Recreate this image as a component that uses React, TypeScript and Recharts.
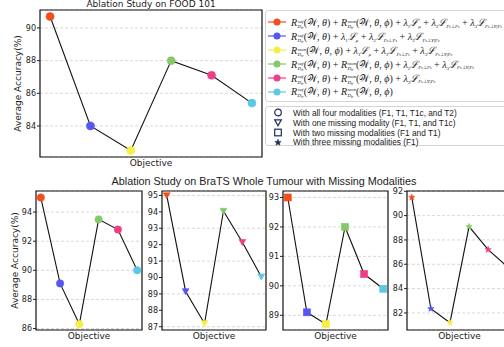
import React from "react";
import { CartesianGrid, Line, LineChart, ReferenceArea, XAxis, YAxis } from "recharts";

// objectives along the x axis (one point per loss combination)
const objectives = ["full", "no-mon", "no-suf", "no-mu", "only-l3", "risks-only"];
const colors = ["#f44d1a", "#5656f2", "#f7ee45", "#84c86a", "#ee3f86", "#5cc8e3"];

const food101 = [90.7, 84.0, 82.5, 88.0, 87.1, 85.4];
const bratsAll = [95.0, 89.1, 86.3, 93.5, 92.8, 90.0];
const bratsOneMissing = [95.0, 89.15, 87.2, 94.05, 92.15, 90.05];
const bratsTwoMissing = [93.0, 89.1, 88.7, 92.0, 90.4, 89.9];
const bratsThreeMissing = [91.5, 82.35, 81.2, 89.1, 87.2, 85.8];

const foodTicks = [84, 86, 88, 90];
const allTicks = [86, 88, 90, 92, 94];
const oneTicks = [87, 88, 89, 90, 91, 92, 93, 94, 95];
const twoTicks = [89, 90, 91, 92, 93];
const threeTicks = [82, 84, 86, 88, 90, 92];

const legendTerms = [
  ["suf", "mon", "l1", "l2", "l3"],
  ["suf", "l1", "l2", "l3"],
  ["mon", "l1", "l2", "l3"],
  ["suf", "mon", "l2", "l3"],
  ["suf", "mon", "l3"],
  ["suf", "mon"],
];
const modalityLabels = [
  "With all four modalities (F1, T1, T1c, and T2)",
  "With one missing modality (F1, T1, and T1c)",
  "With two missing modalities (F1 and T1)",
  "With three missing modalities (F1)",
];
const markerShapes = ["circle", "tri", "square", "star"] as const;

const mpl = "'DejaVu Sans', sans-serif";

function starPoints(cx: number, cy: number, ro: number, ri: number) {
  const pts: string[] = [];
  for (let k = 0; k < 10; k++) {
    const r = k % 2 === 0 ? ro : ri;
    const a = -Math.PI / 2 + (k * Math.PI) / 5;
    pts.push(`${cx + r * Math.cos(a)},${cy + r * Math.sin(a)}`);
  }
  return pts.join(" ");
}

function Marker({ shape, cx, cy, color, size, hollow }: any) {
  const fill = hollow ? "none" : color;
  const sw = hollow ? 1.2 : 0.6;
  if (shape === "circle") return <circle cx={cx} cy={cy} r={size} fill={fill} stroke={color} strokeWidth={sw} />;
  if (shape === "square")
    return <rect x={cx - size} y={cy - size} width={size * 2} height={size * 2} fill={fill} stroke={color} strokeWidth={sw} />;
  if (shape === "tri")
    return (
      <polygon
        points={`${cx - size},${cy - size * 0.8} ${cx + size},${cy - size * 0.8} ${cx},${cy + size}`}
        fill={fill}
        stroke={color}
        strokeWidth={sw}
      />
    );
  return <polygon points={starPoints(cx, cy, size, size * 0.42)} fill={fill} stroke={color} strokeWidth={sw} />;
}

function YLabel({ viewBox, text, dx }: any) {
  const cx = viewBox.x + dx;
  const cy = viewBox.y + viewBox.height / 2;
  return (
    <text x={cx} y={cy} transform={`rotate(-90 ${cx} ${cy})`} textAnchor="middle" dominantBaseline="central" fontSize={9} fontFamily={mpl} fill="#222">
      {text}
    </text>
  );
}

function XLabel({ viewBox, dy }: any) {
  return (
    <text x={viewBox.x + viewBox.width / 2} y={viewBox.y + dy} textAnchor="middle" dominantBaseline="central" fontSize={9} fontFamily={mpl} fill="#222">
      Objective
    </text>
  );
}

interface PanelProps {
  values: number[];
  domain: [number, number];
  ticks: number[];
  shape: string;
  size: number;
  left: number;
  top: number;
  width: number;
  height: number;
  axisW: number;
  marginTop: number;
  xAxisH: number;
  xLabelDy: number;
  ylabel?: boolean;
  ylabelDx?: number;
}

function Panel(p: PanelProps) {
  const data = p.values.map((v, i) => ({ i, name: objectives[i], v }));
  return (
    <div style={{ position: "absolute", left: p.left, top: p.top }}>
      <LineChart width={p.width} height={p.height} data={data} margin={{ top: p.marginTop, right: 2, left: 0, bottom: 0 }}>
        <CartesianGrid vertical={false} stroke="#cfcfcf" strokeDasharray="3 2" strokeWidth={0.8} />
        <XAxis
          type="number"
          dataKey="i"
          domain={[-0.25, 5.25]}
          allowDataOverflow
          tick={false}
          tickLine={false}
          axisLine={false}
          height={p.xAxisH}
          label={<XLabel dy={p.xLabelDy} />}
        />
        <YAxis
          type="number"
          domain={p.domain}
          allowDataOverflow
          ticks={p.ticks}
          width={p.axisW}
          axisLine={false}
          tickSize={3}
          tickMargin={1}
          tickLine={{ stroke: "#222" }}
          tick={{ fontSize: 8, fontFamily: mpl, fill: "#222" }}
          label={p.ylabel ? <YLabel text="Average Accuracy(%)" dx={p.ylabelDx} /> : undefined}
        />
        <ReferenceArea x1={-0.25} x2={5.25} y1={p.domain[0]} y2={p.domain[1]} fill="none" stroke="#111" strokeWidth={1.2} />
        <Line
          dataKey="v"
          stroke="#111"
          strokeWidth={1.1}
          isAnimationActive={false}
          dot={(d: any) => <Marker key={d.index} shape={p.shape} cx={d.cx} cy={d.cy} color={colors[d.index]} size={p.size} />}
          activeDot={false}
        />
      </LineChart>
    </div>
  );
}

const sub: React.CSSProperties = { fontSize: "0.5em", verticalAlign: "-0.3em", lineHeight: 0 };
const tiny: React.CSSProperties = { fontSize: "0.75em" };

function RTerm({ kind }: { kind: string }) {
  return (
    <span>
      <i>R</i>
      <span style={{ display: "inline-block", verticalAlign: "-0.38em", fontSize: "0.5em", lineHeight: "1.05em", marginLeft: 0.4 }}>
        <span style={{ display: "block" }}>
          <i>{kind}</i>
        </span>
        <span style={{ display: "block" }}>
          <i>D</i>
          <span style={{ fontSize: "0.75em", verticalAlign: "-0.25em", lineHeight: 0 }}>
            <i>tr</i>
          </span>
        </span>
      </span>
      {kind === "suf" ? <>(𝒲, <i>θ</i>)</> : <>(𝒲, <i>θ</i>, <i>ϕ</i>)</>}
    </span>
  );
}

function LTerm({ kind }: { kind: string }) {
  const n = kind === "l1" ? "1" : kind === "l2" ? "2" : "3";
  let s: React.ReactNode;
  if (kind === "l1") s = <i>μ</i>;
  else if (kind === "l2")
    s = (
      <>
        <i>F</i>
        <span style={tiny}>c</span>⊥<i>F</i>
        <span style={tiny}>s</span>
      </>
    );
  else
    s = (
      <>
        <i>F</i>
        <span style={tiny}>s</span>⊥<i>Y</i>|<i>F</i>
        <span style={tiny}>c</span>
      </>
    );
  return (
    <span>
      <i>λ</i>
      <span style={sub}>{n}</span>
      <i>ℒ</i>
      <span style={sub}>{s}</span>
    </span>
  );
}

function Formula({ terms }: { terms: string[] }) {
  return (
    <span style={{ whiteSpace: "nowrap" }}>
      {terms.map((t, k) => (
        <React.Fragment key={t}>
          {k > 0 && " + "}
          {t === "suf" || t === "mon" ? <RTerm kind={t} /> : <LTerm kind={t} />}
        </React.Fragment>
      ))}
    </span>
  );
}

export default function App() {
  return (
    <div style={{ position: "fixed", left: 0, top: 0, width: 504, height: 347, overflow: "hidden", background: "#fff" }}>
      <div
        style={{
          position: "absolute",
          left: 40,
          width: 222,
          top: -0.5,
          lineHeight: "9px",
          textAlign: "center",
          fontSize: 9,
          fontFamily: mpl,
          color: "#222",
        }}
      >
        Ablation Study on FOOD 101
      </div>
      <Panel
        values={food101}
        domain={[82.1, 91.1]}
        ticks={foodTicks}
        shape="circle"
        size={4}
        left={0}
        top={0}
        width={264}
        height={170}
        axisW={40}
        marginTop={10}
        xAxisH={13}
        xLabelDy={6}
        ylabel
        ylabelDx={18}
      />

      <div
        style={{
          position: "absolute",
          left: 265,
          top: 10,
          width: 270,
          height: 92,
          boxSizing: "border-box",
          border: "1px solid #d4d4d4",
          borderRadius: 3,
          paddingTop: 4.4,
          paddingLeft: 2,
          fontFamily: "'Liberation Serif', serif",
          fontSize: 10,
          color: "#222",
        }}
      >
        {legendTerms.map((terms, k) => (
          <div key={k} style={{ height: 13.9, display: "flex", alignItems: "center" }}>
            <svg width={18} height={8} style={{ flex: "none", marginRight: 5 }}>
              <line x1={0} x2={18} y1={4} y2={4} stroke={colors[k]} strokeWidth={1.2} />
              <circle cx={9} cy={4} r={3.5} fill={colors[k]} />
            </svg>
            <Formula terms={terms} />
          </div>
        ))}
      </div>

      <div
        style={{
          position: "absolute",
          left: 265,
          top: 106,
          width: 270,
          height: 40,
          boxSizing: "border-box",
          border: "1px solid #d4d4d4",
          borderRadius: 3,
          paddingTop: 0.8,
          paddingLeft: 7,
          fontFamily: "'Liberation Sans', sans-serif",
          fontSize: 8.3,
          color: "#222",
        }}
      >
        {modalityLabels.map((label, k) => (
          <div key={k} style={{ height: 9.9, display: "flex", alignItems: "center" }}>
            <svg width={10} height={9} style={{ flex: "none", marginRight: 10 }}>
              <Marker shape={markerShapes[k]} cx={5} cy={4.5} color="#1f2b5e" size={3.3} hollow={k < 3} />
            </svg>
            <span style={{ whiteSpace: "nowrap" }}>{label}</span>
          </div>
        ))}
      </div>

      <div
        style={{
          position: "absolute",
          left: 64,
          width: 400,
          top: 174,
          lineHeight: "14px",
          textAlign: "center",
          fontSize: 10.8,
          fontFamily: "'Liberation Sans', sans-serif",
          color: "#222",
          whiteSpace: "nowrap",
        }}
      >
        Ablation Study on BraTS Whole Tumour with Missing Modalities
      </div>

      <Panel
        values={bratsAll}
        domain={[85.9, 95.45]}
        ticks={allTicks}
        shape="circle"
        size={3.7}
        left={0}
        top={178}
        width={144}
        height={169}
        axisW={36}
        marginTop={13}
        xAxisH={17}
        xLabelDy={6}
        ylabel
        ylabelDx={15}
      />
      <Panel
        values={bratsOneMissing}
        domain={[86.8, 95.27]}
        ticks={oneTicks}
        shape="tri"
        size={3.4}
        left={142}
        top={178}
        width={126}
        height={169}
        axisW={20}
        marginTop={13}
        xAxisH={17}
        xLabelDy={6}
      />
      <Panel
        values={bratsTwoMissing}
        domain={[88.5, 93.22]}
        ticks={twoTicks}
        shape="square"
        size={3.5}
        left={266}
        top={178}
        width={124}
        height={169}
        axisW={17}
        marginTop={13}
        xAxisH={17}
        xLabelDy={6}
      />
      <Panel
        values={bratsThreeMissing}
        domain={[80.6, 92.02]}
        ticks={threeTicks}
        shape="star"
        size={3.3}
        left={388}
        top={178}
        width={126}
        height={169}
        axisW={19}
        marginTop={13}
        xAxisH={17}
        xLabelDy={6}
      />
    </div>
  );
}
